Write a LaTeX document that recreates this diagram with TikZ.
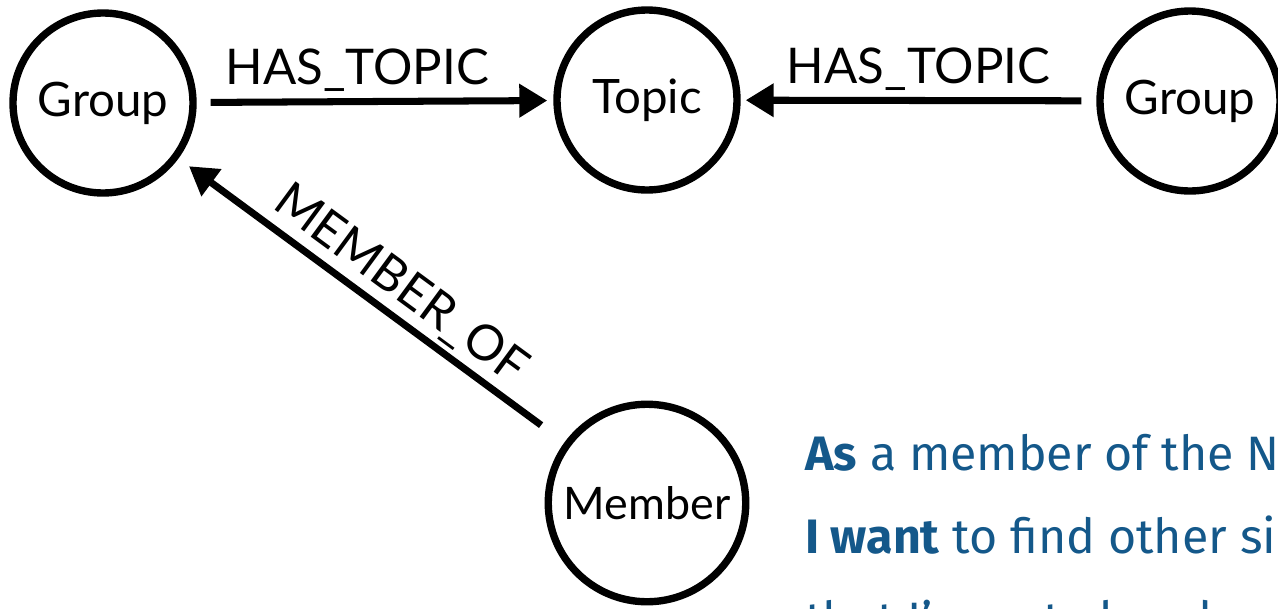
\documentclass[tikz,border=0pt]{standalone}
\usepackage{fontspec}
\setmainfont{Lato}
\newfontfamily\storyfont{Fira Sans}
\usetikzlibrary{arrows.meta}
\definecolor{storyblue}{RGB}{20,88,138}

\begin{document}
\begin{tikzpicture}[
  entity/.style={draw, circle, line width=4.2pt, minimum size=3.6cm, inner sep=0pt,
    font=\fontsize{27}{32}\selectfont},
  rel/.style={line width=4pt, -{Triangle[length=0.56cm, width=0.64cm]}},
  rellabel/.style={font=\fontsize{28}{32}\selectfont, inner sep=1pt},
  story/.style={anchor=base west, inner sep=0pt, text=storyblue,
    font=\storyfont\fontsize{27.5}{32}\selectfont}
]
  \useasboundingbox (0,0) rectangle (25.56,-12.18);

  % nodes of the graph
  \node[entity] (groupA) at (2.06,-2.06) {Group};
  \node[entity] (topic) at (12.94,-2.0) {Topic};
  \node[entity] (groupB) at (23.8,-2.02) {Group};
  \node[entity, minimum size=3.95cm, font=\fontsize{25.5}{30}\selectfont] (member) at (12.94,-10.06) {Member};

  % relationships
  \draw[rel, shorten <=0.28cm, shorten >=0.12cm] (groupA) --
    node[rellabel, above=0.1cm, pos=0.45] {HAS\_TOPIC} (topic);
  \draw[rel, shorten <=0.3cm, shorten >=0.1cm] (groupB) --
    node[rellabel, above=0.1cm] {HAS\_TOPIC} (topic);
  \draw[rel, shorten <=0.58cm, shorten >=0.26cm] (member) --
    node[rellabel, sloped, above=0.06cm, pos=0.47] {MEMBER\_OF} (groupA);

  % user story
  \node[story] (storyA) at (16.1,-9.4) {\textbf{As} a member of the N};
  \node[story] (storyB) at (16.1,-11.06) {\textbf{I want} to find other si};
  \node[story] (storyC) at (16.1,-12.72) {that I’m not already a};
\end{tikzpicture}
\end{document}
